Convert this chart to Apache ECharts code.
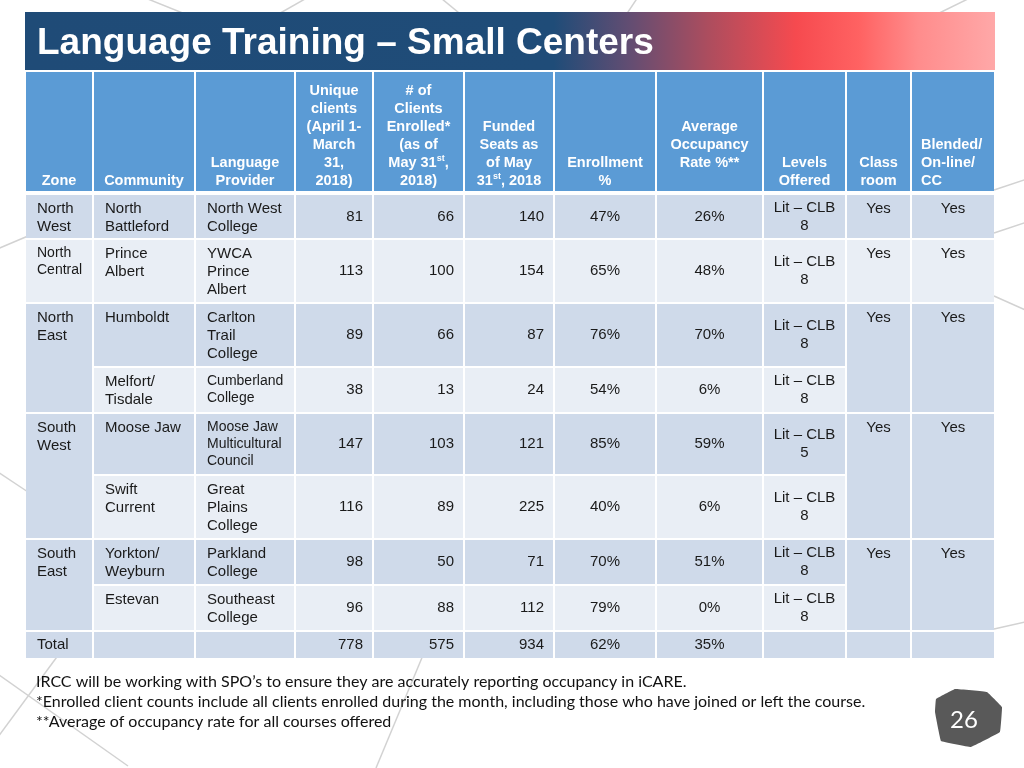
<!DOCTYPE html>
<html><head><meta charset="utf-8">
<script src="https://cdn.jsdelivr.net/npm/echarts@6/dist/echarts.min.js"></script>
<style>html,body{margin:0;padding:0;background:#fff}#c{width:1024px;height:768px}</style>
</head><body><div id="c"></div>
<script>
// ---------------- DATA ----------------
const titleText = 'Language Training – Small Centers';
const headerLabels = [
  'Zone', 'Community', 'Language\nProvider',
  'Unique\nclients\n(April 1-\nMarch\n31,\n2018)',
  '# of\nClients\nEnrolled*\n(as of\nMay 31{sup|st},\n2018)',
  'Funded\nSeats as\nof May\n31{sup|st}, 2018',
  'Enrollment\n%',
  'Average\nOccupancy\nRate %**',
  'Levels\nOffered', 'Class\nroom', 'Blended/\nOn-line/\nCC'
];
const zones = ['North\nWest', 'North\nCentral', 'North\nEast', 'South\nWest', 'South\nEast'];
const zoneRowCount = [1, 1, 2, 2, 2];
const classroom = ['Yes', 'Yes', 'Yes', 'Yes', 'Yes'];
const blended = ['Yes', 'Yes', 'Yes', 'Yes', 'Yes'];
const communities = ['North\nBattleford', 'Prince\nAlbert', 'Humboldt', 'Melfort/\nTisdale',
  'Moose Jaw', 'Swift\nCurrent', 'Yorkton/\nWeyburn', 'Estevan'];
const providers = ['North West\nCollege', 'YWCA\nPrince\nAlbert', 'Carlton\nTrail\nCollege', 'Cumberland\nCollege',
  'Moose Jaw\nMulticultural\nCouncil', 'Great\nPlains\nCollege', 'Parkland\nCollege', 'Southeast\nCollege'];
const uniqueClients = [81, 113, 89, 38, 147, 116, 98, 96];
const clientsEnrolled = [66, 100, 66, 13, 103, 89, 50, 88];
const fundedSeats = [140, 154, 87, 24, 121, 225, 71, 112];
const enrollmentPct = [47, 65, 76, 54, 85, 40, 70, 79];
const occupancyPct = [26, 48, 70, 6, 59, 6, 51, 0];
const levelsOffered = ['Lit – CLB\n8', 'Lit – CLB\n8', 'Lit – CLB\n8', 'Lit – CLB\n8',
  'Lit – CLB\n5', 'Lit – CLB\n8', 'Lit – CLB\n8', 'Lit – CLB\n8'];
const totalLabel = 'Total';
const totalUnique = 778, totalEnrolled = 575, totalFunded = 934, totalEnrollmentPct = 62, totalOccupancyPct = 35;
const notes = [
  'IRCC will be working with SPO’s to ensure they are accurately reporting occupancy in iCARE.',
  '*Enrolled client counts include all clients enrolled during the month, including those who have joined or left the course.',
  '**Average of occupancy rate for all courses offered'
];
const pageNumber = '26';

// ---------------- LAYOUT / STYLE ----------------
const COLX = [25, 93, 195, 295, 373, 464, 554, 656, 763, 846, 911, 995];
const HEAD_TOP = 72, HEAD_BOTTOM = 191;
const ROWY = [195, 240, 304, 368, 414, 476, 540, 586, 632, 660];
const FONT = '"Liberation Sans", Arial, sans-serif';
const NOTE_FONT = 'Lato, "Open Sans", sans-serif';
const C_HEAD = '#5b9bd5', C_DARK = '#cfdaea', C_LIGHT = '#e9eef5', C_TXT = '#1a1a1a';
const smallCells = { '0,1': 1, '2,3': 1, '2,4': 1 }; // col,row shrunk text (14px)

const cells = [];
function add(c0, c1, y0, y1, fill, text, opt) {
  cells.push(Object.assign({ x0: COLX[c0] + 1, x1: COLX[c1] - 1, y0: y0, y1: y1, fill: fill, text: text }, opt || {}));
}
// header
headerLabels.forEach((h, i) => {
  add(i, i + 1, HEAD_TOP, HEAD_BOTTOM, C_HEAD, h, {
    head: true, align: i === 10 ? 'left' : 'center', vpos: 'bottom',
    bottomY: i === 7 ? 171 : 189
  });
});
// body rows
for (let r = 0; r < communities.length; r++) {
  const y0 = ROWY[r], y1 = ROWY[r + 1] - 2, fill = r % 2 ? C_LIGHT : C_DARK;
  add(1, 2, y0, y1, fill, communities[r], { align: 'left', vpos: 'top' });
  add(2, 3, y0, y1, fill, providers[r], { align: 'left', vpos: 'top', small: !!smallCells['2,' + r] });
  add(3, 4, y0, y1, fill, String(uniqueClients[r]), { align: 'right', vpos: 'middle' });
  add(4, 5, y0, y1, fill, String(clientsEnrolled[r]), { align: 'right', vpos: 'middle' });
  add(5, 6, y0, y1, fill, String(fundedSeats[r]), { align: 'right', vpos: 'middle' });
  add(6, 7, y0, y1, fill, enrollmentPct[r] + '%', { align: 'center', vpos: 'middle' });
  add(7, 8, y0, y1, fill, occupancyPct[r] + '%', { align: 'center', vpos: 'middle' });
  add(8, 9, y0, y1, fill, levelsOffered[r], { align: 'center', vpos: 'middle' });
}
// merged zone cells
let start = 0;
zones.forEach((z, k) => {
  const n = zoneRowCount[k];
  const y0 = ROWY[start], y1 = ROWY[start + n] - 2, fill = start % 2 ? C_LIGHT : C_DARK;
  add(0, 1, y0, y1, fill, z, { align: 'left', vpos: 'top', small: !!smallCells['0,' + start] });
  add(9, 10, y0, y1, fill, classroom[k], { align: 'center', vpos: 'top' });
  add(10, 11, y0, y1, fill, blended[k], { align: 'center', vpos: 'top' });
  start += n;
});
// total row
{
  const y0 = ROWY[8], y1 = ROWY[9] - 2;
  add(0, 1, y0, y1, C_DARK, totalLabel, { align: 'left', vpos: 'middle' });
  add(1, 2, y0, y1, C_DARK, '');
  add(2, 3, y0, y1, C_DARK, '');
  add(3, 4, y0, y1, C_DARK, String(totalUnique), { align: 'right', vpos: 'middle' });
  add(4, 5, y0, y1, C_DARK, String(totalEnrolled), { align: 'right', vpos: 'middle' });
  add(5, 6, y0, y1, C_DARK, String(totalFunded), { align: 'right', vpos: 'middle' });
  add(6, 7, y0, y1, C_DARK, totalEnrollmentPct + '%', { align: 'center', vpos: 'middle' });
  add(7, 8, y0, y1, C_DARK, totalOccupancyPct + '%', { align: 'center', vpos: 'middle' });
  add(8, 9, y0, y1, C_DARK, '');
  add(9, 10, y0, y1, C_DARK, '');
  add(10, 11, y0, y1, C_DARK, '');
}

function renderItem(params, api) {
  const c = cells[params.dataIndex];
  const p0 = api.coord([c.x0, c.y0]), p1 = api.coord([c.x1, c.y1]);
  const children = [{
    type: 'rect', shape: { x: p0[0], y: p0[1], width: p1[0] - p0[0], height: p1[1] - p0[1] },
    style: { fill: c.fill }
  }];
  if (c.text) {
    const fs = c.head ? 14.5 : (c.small ? 14 : 15);
    const lh = c.head ? 18 : (c.small ? 17 : 18);
    let tx, ty, va;
    if (c.align === 'left') tx = p0[0] + (c.head ? 9 : 11);
    else if (c.align === 'right') tx = p1[0] - 9;
    else tx = (p0[0] + p1[0]) / 2;
    if (c.vpos === 'top') { ty = p0[1] + 13.5 - lh / 2; va = 'top'; }
    else if (c.vpos === 'bottom') { ty = api.coord([0, c.bottomY])[1] + 1; va = 'bottom'; }
    else { ty = (p0[1] + p1[1]) / 2; va = 'middle'; }
    children.push({
      type: 'text',
      style: {
        text: c.text, x: tx, y: ty, align: c.align, verticalAlign: va,
        fill: c.head ? '#ffffff' : C_TXT, fontSize: fs, fontFamily: FONT,
        fontWeight: c.head ? 'bold' : 'normal', lineHeight: lh,
        rich: { sup: { fontSize: 9, fontWeight: 'bold', fontFamily: FONT, fill: '#ffffff', lineHeight: 10, verticalAlign: 'top' } }
      }
    });
  }
  return { type: 'group', children: children };
}

// decorative background lines
const deco = [
  [[128, -9], [200, 20]], [[312, -5], [268, 20]], [[436, -6], [470, 22]], [[640, -6], [620, 24]],
  [[978, -6], [925, 20]], [[994, 190], [1030, 178]], [[994, 233], [1030, 221]], [[994, 296], [1030, 312]],
  [[994, 629], [1030, 621]], [[-5, 250], [28, 236]], [[-5, 470], [28, 492]],
  [[62, 650], [-8, 745]], [[-8, 670], [128, 766]], [[426, 648], [376, 768]]
];
const graphics = deco.map(d => ({
  type: 'line', z: 0, silent: true,
  shape: { x1: d[0][0], y1: d[0][1], x2: d[1][0], y2: d[1][1] },
  style: { stroke: '#d2d2d2', lineWidth: 1.5 }
}));
graphics.push({
  type: 'rect', z: 1, shape: { x: 25, y: 12, width: 970, height: 58 },
  style: {
    fill: new echarts.graphic.LinearGradient(0, 0, 1, 0, [
      { offset: 0, color: '#1f4b77' }, { offset: 0.545, color: '#1f4c78' },
      { offset: 0.625, color: '#644d72' }, { offset: 0.705, color: '#ad4d5e' },
      { offset: 0.795, color: '#f64a4f' }, { offset: 0.86, color: '#ff6262' },
      { offset: 0.92, color: '#ff8c8c' }, { offset: 1, color: '#ffa8a8' }
    ])
  }
});
graphics.push({
  type: 'text', z: 2, style: {
    text: titleText, x: 37, y: 44, verticalAlign: 'middle', fill: '#ffffff',
    font: 'bold 37px ' + FONT
  }
});
notes.forEach((t, i) => graphics.push({
  type: 'text', z: 2, style: {
    text: t, x: 36, y: 682 + i * 20, verticalAlign: 'middle', fill: '#111111',
    font: '16px ' + NOTE_FONT
  }
}));
graphics.push({
  type: 'polygon', z: 2, shape: {
    points: [[936, 699], [955, 689], [987, 692], [1002, 707], [1000, 732], [971, 747], [941, 741], [935, 712]],
    smooth: 0.04
  }, style: { fill: '#595959' }
});
graphics.push({
  type: 'text', z: 3, style: {
    text: pageNumber, x: 964, y: 720, align: 'center', verticalAlign: 'middle', fill: '#ffffff',
    font: '24px ' + NOTE_FONT
  }
});

const chart = echarts.init(document.getElementById('c'), null, { renderer: 'canvas' });
chart.setOption({
  animation: false,
  backgroundColor: '#ffffff',
  grid: { left: 0, right: 0, top: 0, bottom: 0 },
  xAxis: { type: 'value', min: 0, max: 1024, show: false },
  yAxis: { type: 'value', min: 0, max: 768, inverse: true, show: false },
  graphic: { elements: graphics },
  series: [{
    type: 'custom', renderItem: renderItem, clip: false, z: 5,
    data: cells.map(c => [c.x0, c.y0])
  }]
});
</script></body></html>
